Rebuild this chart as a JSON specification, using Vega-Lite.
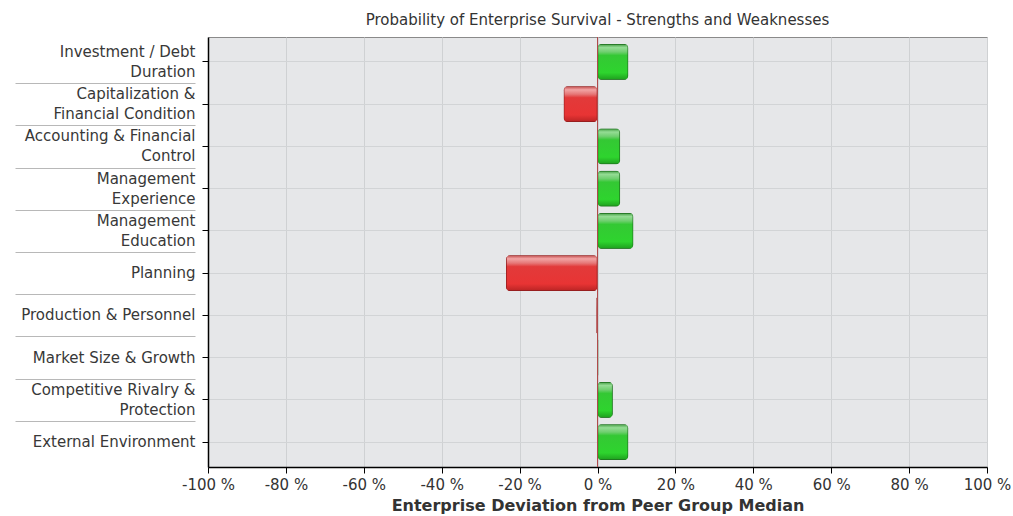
{
  "$schema": "https://vega.github.io/schema/vega-lite/v6.json",
  "width": 779,
  "height": 430,
  "autosize": {"type": "none"},
  "padding": {"left": 208, "top": 37, "right": 26, "bottom": 49},
  "background": "#ffffff",
  "title": {
    "text": "Probability of Enterprise Survival - Strengths and Weaknesses",
    "anchor": "middle",
    "frame": "group",
    "font": "DejaVu Sans",
    "fontSize": 15,
    "fontWeight": "normal",
    "color": "#333333",
    "offset": 9
  },
  "config": {
    "view": {"fill": "#e6e7e9", "stroke": "#8a8a8a", "strokeWidth": 1},
    "axis": {"labelFont": "DejaVu Sans", "titleFont": "DejaVu Sans"}
  },
  "data": {
    "values": [
      {"factor": "Investment / Debt|Duration", "value": 7.9},
      {"factor": "Capitalization &|Financial Condition", "value": -8.7},
      {"factor": "Accounting & Financial|Control", "value": 5.8},
      {"factor": "Management|Experience", "value": 5.8},
      {"factor": "Management|Education", "value": 9.2},
      {"factor": "Planning", "value": -23.5},
      {"factor": "Production & Personnel", "value": -0.3},
      {"factor": "Market Size & Growth", "value": 0.2},
      {"factor": "Competitive Rivalry &|Protection", "value": 3.9},
      {"factor": "External Environment", "value": 7.9}
    ]
  },
  "resolve": {"axis": {"y": "independent"}},
  "layer": [
    {
      "mark": {"type": "bar", "opacity": 0},
      "encoding": {
        "y": {
          "field": "factor",
          "type": "nominal",
          "sort": null,
          "scale": {"paddingInner": 0.15, "paddingOuter": 0.165},
          "axis": {
            "orient": "left",
            "offset": 13,
            "title": null,
            "labels": false,
            "domain": false,
            "grid": false,
            "tickBand": "center",
            "tickOffset": 21.1,
            "tickSize": 180,
            "tickColor": "#b8b8b8",
            "tickWidth": 1,
            "tickOpacity": {"condition": {"test": "datum.value === 'External Environment'", "value": 0}, "value": 1}
          }
        },
        "x": {
          "field": "value",
          "type": "quantitative",
          "scale": {"domain": [-100, 100]},
          "axis": {
            "title": "Enterprise Deviation from Peer Group Median",
            "titleFontSize": 16,
            "titleFontWeight": "bold",
            "titleColor": "#333333",
            "titlePadding": 5,
            "values": [-100, -80, -60, -40, -20, 0, 20, 40, 60, 80, 100],
            "labelExpr": "datum.value + ' %'",
            "labelFlush": false,
            "labelFontSize": 15,
            "labelColor": "#333333",
            "labelPadding": 4,
            "tickSize": 6,
            "tickColor": "#000000",
            "domainColor": "#000000",
            "domainWidth": 1.5,
            "gridColor": "#cfd1d3",
            "gridWidth": 1
          }
        }
      }
    },
    {
      "mark": {
        "type": "bar",
        "cornerRadius": 4,
        "strokeWidth": 1.5
      },
      "encoding": {
        "y": {
          "field": "factor",
          "type": "nominal",
          "sort": null,
          "axis": {
            "orient": "left",
            "title": null,
            "labelExpr": "split(datum.value, '|')",
            "labelFontSize": 15,
            "labelColor": "#383838",
            "labelLineHeight": 20,
            "labelPadding": 7,
            "labelLimit": 250,
            "labelOffset": {"condition": {"test": "indexof(datum.value, '|') >= 0", "value": -10}, "value": 0},
            "tickSize": 6,
            "tickColor": "#000000",
            "domainColor": "#000000",
            "domainWidth": 1.5,
            "grid": true,
            "tickBand": "center",
            "gridColor": "#d2d4d6",
            "gridWidth": 1
          }
        },
        "x": {
          "field": "value",
          "type": "quantitative",
          "scale": {"domain": [-100, 100]},
          "axis": {
            "title": "Enterprise Deviation from Peer Group Median",
            "titleFontSize": 16,
            "titleFontWeight": "bold",
            "titleColor": "#333333",
            "titlePadding": 5,
            "values": [-100, -80, -60, -40, -20, 0, 20, 40, 60, 80, 100],
            "labelExpr": "datum.value + ' %'",
            "labelFlush": false,
            "labelFontSize": 15,
            "labelColor": "#333333",
            "labelPadding": 4,
            "tickSize": 6,
            "tickColor": "#000000",
            "domainColor": "#000000",
            "domainWidth": 1.5,
            "gridColor": "#cfd1d3",
            "gridWidth": 1
          }
        },
        "fill": {
          "condition": {
            "test": "datum.value < 0",
            "value": {
              "gradient": "linear", "x1": 0, "y1": 0, "x2": 0, "y2": 1,
              "stops": [
                {"offset": 0, "color": "#c04848"},
                {"offset": 0.1, "color": "#f2a4a4"},
                {"offset": 0.22, "color": "#e67878"},
                {"offset": 0.32, "color": "#e23a3a"},
                {"offset": 0.8, "color": "#e83434"},
                {"offset": 1, "color": "#b82424"}
              ]
            }
          },
          "value": {
            "gradient": "linear", "x1": 0, "y1": 0, "x2": 0, "y2": 1,
            "stops": [
              {"offset": 0, "color": "#3f9a3f"},
              {"offset": 0.1, "color": "#94dc94"},
              {"offset": 0.22, "color": "#70cf70"},
              {"offset": 0.32, "color": "#34c834"},
              {"offset": 0.8, "color": "#2ed42e"},
              {"offset": 1, "color": "#1e9e1e"}
            ]
          }
        },
        "stroke": {
          "field": "value",
          "type": "quantitative",
          "scale": {"type": "threshold", "domain": [0], "range": ["#8c1c1c", "#1f6e1f"]},
          "legend": null
        }
      }
    },
    {
      "mark": {"type": "rule", "color": "#b04a4a", "strokeWidth": 1},
      "encoding": {"x": {"datum": 0, "type": "quantitative"}}
    }
  ]
}
